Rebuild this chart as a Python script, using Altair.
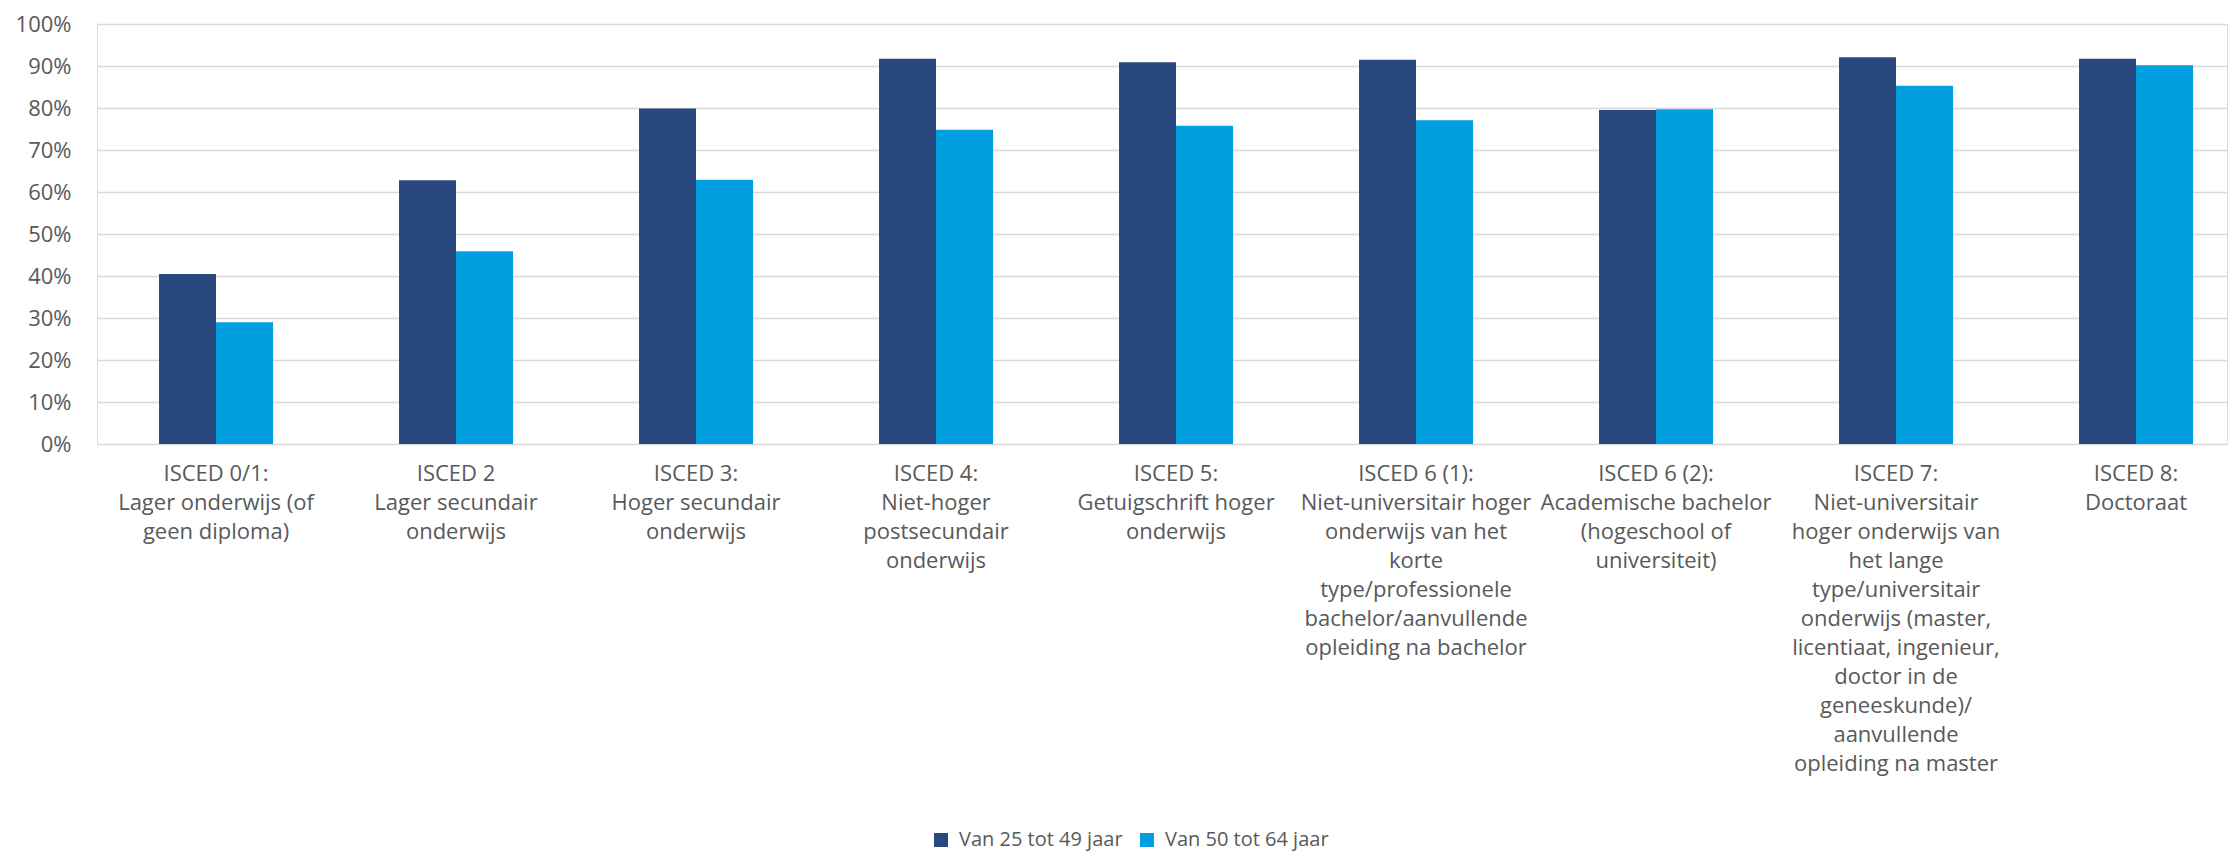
import altair as alt
import pandas as pd

categories = [
    "ISCED 0/1:|Lager onderwijs (of|geen diploma)",
    "ISCED 2|Lager secundair|onderwijs",
    "ISCED 3:|Hoger secundair|onderwijs",
    "ISCED 4:|Niet-hoger|postsecundair|onderwijs",
    "ISCED 5:|Getuigschrift hoger|onderwijs",
    "ISCED 6 (1):|Niet-universitair hoger|onderwijs van het|korte|type/professionele|bachelor/aanvullende|opleiding na bachelor",
    "ISCED 6 (2):|Academische bachelor|(hogeschool of|universiteit)",
    "ISCED 7:|Niet-universitair|hoger onderwijs van|het lange|type/universitair|onderwijs (master,|licentiaat, ingenieur,|doctor in de|geneeskunde)/|aanvullende|opleiding na master",
    "ISCED 8:|Doctoraat",
]
series = ["Van 25 tot 49 jaar", "Van 50 tot 64 jaar"]
values_25_49 = [40.5, 62.8, 79.9, 91.7, 90.9, 91.5, 79.5, 92.1, 91.7]
values_50_64 = [29.0, 45.9, 62.9, 74.8, 75.8, 77.1, 79.7, 85.3, 90.2]
colors = ["#29497E", "#009FDF"]

rows = []
for c, a, b in zip(categories, values_25_49, values_50_64):
    rows.append({"cat": c, "serie": series[0], "val": a / 100})
    rows.append({"cat": c, "serie": series[1], "val": b / 100})
df = pd.DataFrame(rows)

FONT = "Open Sans"
GREY = "#595959"

chart = alt.Chart(df).mark_bar().encode(
    x=alt.X("cat:N", sort=categories, title=None,
            scale=alt.Scale(paddingInner=0.525, paddingOuter=0.2, align=0.646),
            axis=alt.Axis(labelAngle=0, labelExpr="split(datum.label, '|')",
                          labelFontSize=22, labelLineHeight=29, labelColor=GREY,
                          labelFont=FONT, labelPadding=19, labelLimit=400,
                          labelOverlap=False, labelBound=False, labelBaseline="top",
                          ticks=False, domain=False, grid=False)),
    xOffset=alt.XOffset("serie:N", sort=series,
                        scale=alt.Scale(paddingInner=0, paddingOuter=0)),
    y=alt.Y("val:Q", title=None,
            scale=alt.Scale(domain=[0, 1], nice=False),
            axis=alt.Axis(format=".0%", values=[i / 10 for i in range(11)],
                          labelFontSize=22, labelColor=GREY, labelFont=FONT,
                          labelPadding=26, ticks=False, domain=False,
                          grid=True, gridColor="#D9D9D9", gridWidth=1.5)),
    color=alt.Color("serie:N", sort=series,
                    scale=alt.Scale(domain=series, range=colors),
                    legend=alt.Legend(title=None, orient="none", direction="horizontal",
                                      legendX=834, legendY=806,
                                      symbolType="square", symbolSize=196,
                                      symbolStrokeWidth=0, labelFontSize=20,
                                      labelFont=FONT, labelColor=GREY, labelLimit=400,
                                      labelOffset=8, columnPadding=14, padding=0)),
).properties(
    width=2130,
    height=420,
    autosize=alt.AutoSizeParams(type="none"),
    padding={"left": 89, "top": 16, "right": 2, "bottom": 412},
).configure_view(stroke=None).configure(background="white")

chart.save("out.html", embed_options={"renderer": "svg", "actions": False})
